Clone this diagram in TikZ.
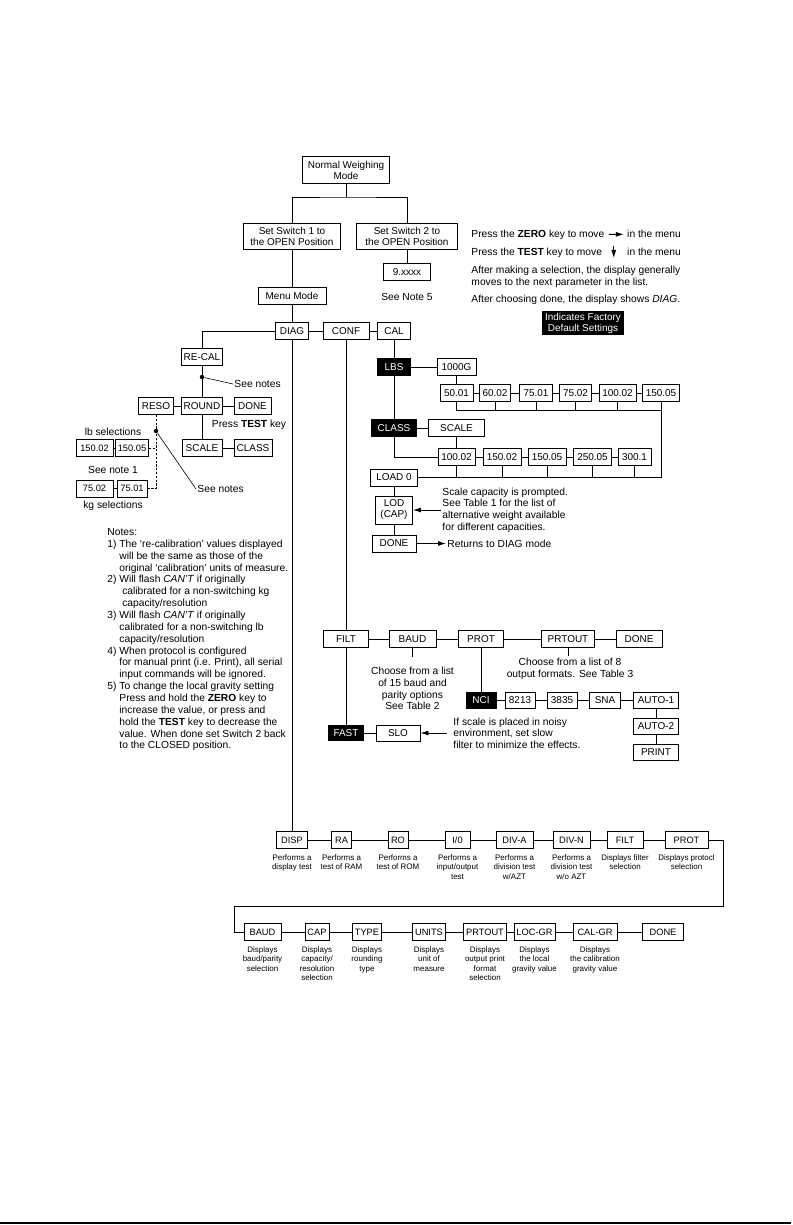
\documentclass[tikz,border=0pt]{standalone}
\usepackage{fontspec}
\setmainfont{Liberation Sans}
\usetikzlibrary{positioning,arrows.meta}

\tikzset{
  menubox/.style={draw, minimum height=17.5bp, inner xsep=2.5bp, inner ysep=0.5bp, align=center, font=\fontsize{10}{11}\selectfont},
  defbox/.style={menubox, fill=black, text=white},
  smallbox/.style={menubox, minimum height=17bp, font=\fontsize{9.3}{10}\selectfont},
  infotext/.style={font=\fontsize{10.3}{11.7}\selectfont, inner sep=1bp},
  capt/.style={font=\fontsize{8}{9.5}\selectfont, align=center, inner sep=0bp},
  pointer/.style={-{Latex[length=8bp,width=5bp]}},
  blob/.style={circle, fill=black, inner sep=0pt, minimum size=4.5bp},
}

\begin{document}
\begin{tikzpicture}[x=1bp, y=-1bp, line width=0.9bp]

  \useasboundingbox (0,0) rectangle (793,1225);

  \node[menubox, minimum width=87bp, minimum height=27bp] (normal) at (346,170) {Normal Weighing\\Mode};
  \node[menubox, minimum width=97bp, minimum height=26bp] (switch1) at (292,236) {Set Switch 1 to\\the OPEN Position};
  \node[menubox, minimum width=101bp, minimum height=26bp] (switch2) at (407,236) {Set Switch 2 to\\the OPEN Position};
  \node[menubox, minimum width=47bp] (gravity) at (407,272) {9.xxxx};
  \node[infotext] (note5) at (407,297) {See Note 5};
  \node[menubox, minimum width=68bp] (menu) at (292,296) {Menu Mode};
  \node[menubox, minimum width=33bp] (diag) at (292,331) {DIAG};
  \node[menubox, minimum width=46bp] (conf) at (346,331) {CONF};
  \node[menubox, minimum width=33bp] (cal) at (394,331) {CAL};

  \coordinate (split) at (346,197);
  \draw (normal) -- (split);
  \draw (switch1.north) |- (split) -| (switch2.north);
  \draw (switch2) -- (gravity);
  \draw (switch1) -- (menu) -- (diag);
  \draw (diag) -- (conf) -- (cal);

  \node[infotext, anchor=west] (zero1) at (470,235) {Press the \textbf{ZERO} key to move};
  \node[infotext, base right=20bp of zero1] (zero2) {in the menu};
  \draw[pointer, shorten <=3bp, shorten >=2bp] (zero1) -- (zero2);
  \node[infotext, anchor=west] (test1) at (470,253) {Press the \textbf{TEST} key to move};
  \node[infotext, anchor=base west] (test2) at (zero2.base west |- test1.base) {in the menu};
  \coordinate (downtop) at ([xshift=-12bp, yshift=6bp]test2.west);
  \coordinate (downend) at ([xshift=-12bp, yshift=-6bp]test2.west);
  \draw[pointer] (downtop) -- (downend);
  \node[infotext, anchor=west, align=left] (aftersel) at (470,277) {After making a selection, the display generally\\moves to the next parameter in the list.};
  \node[infotext, anchor=west] (afterdone) at (470,300) {After choosing done, the display shows \textit{DIAG}.};
  \node[defbox, minimum width=67bp, minimum height=23bp, font=\fontsize{10}{11}\selectfont] (legend) at (583,323) {Indicates Factory\\Default Settings};

  \node[defbox, minimum width=33bp] (lbs) at (394,367) {LBS};
  \node[menubox, minimum width=39bp] (g1000) at (456.5,367) {1000G};
  \node[menubox, minimum width=33bp] (l5001) at (456.5,393) {50.01};
  \node[menubox, minimum width=31bp] (l6002) at (495,393) {60.02};
  \node[menubox, minimum width=33bp] (l7501) at (536,393) {75.01};
  \node[menubox, minimum width=32bp] (l7502) at (575.5,393) {75.02};
  \node[menubox, minimum width=37bp] (l10002) at (617.5,393) {100.02};
  \node[menubox, minimum width=37bp] (l15005) at (661,393) {150.05};
  \node[defbox, minimum width=45bp] (class) at (394,428) {CLASS};
  \node[menubox, minimum width=56bp] (scale) at (456.5,428) {SCALE};
  \node[menubox, minimum width=37bp] (c10002) at (456.5,457) {100.02};
  \node[menubox, minimum width=38bp] (c15002) at (502,457) {150.02};
  \node[menubox, minimum width=38bp] (c15005) at (547,457) {150.05};
  \node[menubox, minimum width=38bp] (c25005) at (592.5,457) {250.05};
  \node[menubox, minimum width=33bp] (c3001) at (634.5,457) {300.1};
  \node[menubox, minimum width=47bp, minimum height=17bp] (load) at (394,477.5) {LOAD 0};
  \node[menubox, minimum width=37bp, minimum height=28bp] (lod) at (394,510) {LOD\\(CAP)};
  \node[menubox, minimum width=44bp, minimum height=17bp] (caldone) at (394,543.5) {DONE};
  \node[infotext, anchor=west, align=left] (captext) at (441,510) {Scale capacity is prompted.\\See Table 1 for the list of\\alternative weight available\\for different capacities.};
  \node[infotext, anchor=west] (backtext) at (446,543.5) {Returns to DIAG mode};

  \coordinate (busone) at (661,410);
  \coordinate (bustwo) at (661,477.5);
  \draw (cal) -- (lbs) -- (class);
  \draw (lbs) -- (g1000) -- (l5001);
  \draw (l5001) -- (l6002) -- (l7501) -- (l7502) -- (l10002) -- (l15005);
  \draw (l5001.south) |- (busone) -- (bustwo);
  \foreach \n in {l6002,l7501,l7502,l10002}
    \draw (\n.south) -- (\n.south |- busone);
  \draw (l15005) -- (busone);
  \draw (class) -- (scale) -- (c10002);
  \draw (class.south) |- (c10002.west);
  \draw (c10002) -- (c15002) -- (c15005) -- (c25005) -- (c3001);
  \foreach \n in {c10002,c15002,c15005,c25005,c3001}
    \draw (\n.south) -- (\n.south |- bustwo);
  \draw (load) -- (bustwo);
  \draw (load) -- (lod) -- (caldone);
  \draw[pointer] (captext.west) -- (lod.east);
  \draw[pointer] (caldone) -- (backtext);

  \node[menubox, minimum width=41bp] (recal) at (202,357) {RE-CAL};
  \node[blob] (dotone) at (202,377) {};
  \node[infotext, anchor=west] (seenotes1) at (233,384) {See notes};
  \node[menubox, minimum width=35bp, minimum height=17bp] (reso) at (156,406) {RESO};
  \node[menubox, minimum width=41bp, minimum height=17bp] (round) at (202,406) {ROUND};
  \node[menubox, minimum width=37bp, minimum height=17bp] (rounddone) at (252.5,406) {DONE};
  \node[infotext] (presstest) at (249,425) {Press \textbf{TEST} key};
  \node[menubox, minimum width=40bp, minimum height=17bp] (scaleleft) at (202,448) {SCALE};
  \node[menubox, minimum width=38bp, minimum height=17bp] (classleft) at (253,448) {CLASS};
  \node[infotext] (lbsel) at (113,432) {lb selections};
  \node[smallbox, minimum width=37bp] (lb1) at (94.5,448) {150.02};
  \node[smallbox, minimum width=32bp] (lb2) at (132,448) {150.05};
  \node[infotext] (note1) at (113,470) {See note 1};
  \node[smallbox, minimum width=37bp] (kg1) at (94.5,488.5) {75.02};
  \node[smallbox, minimum width=30bp] (kg2) at (132,488.5) {75.01};
  \node[infotext] (kgsel) at (113,506) {kg selections};
  \node[blob] (dottwo) at (156,431) {};
  \node[infotext, anchor=west] (seenotes2) at (196,489) {See notes};

  \draw (diag.west) -| (recal.north);
  \draw (recal) -- (round);
  \draw[line width=0.6bp] (dotone) -- (seenotes1.west);
  \draw (reso) -- (round) -- (rounddone);
  \draw (round) -- (scaleleft) -- (classleft);
  \draw (lb1) -- (lb2);
  \draw (kg1) -- (kg2);
  \draw[dash pattern=on 2.2bp off 1.6bp] (reso.south) |- (kg2.east);
  \draw[dash pattern=on 2.2bp off 1.6bp] (lb2.east) -- (lb2.east -| reso.south);
  \draw[line width=0.6bp] (dottwo) -- (seenotes2.west);

  \node[infotext, anchor=north west, align=left, font=\fontsize{10.3}{11.9}\selectfont] (notes) at (106,527) {Notes:\\
    1) The `re-calibration' values displayed\\
    \hphantom{1) }will be the same as those of the\\
    \hphantom{1) }original `calibration' units of measure.\\
    2) Will flash \textit{CAN'T} if originally\\
    \hphantom{2)\ \ }calibrated for a non-switching kg\\
    \hphantom{2)\ \ }capacity/resolution\\
    3) Will flash \textit{CAN'T} if originally\\
    \hphantom{3) }calibrated for a non-switching lb\\
    \hphantom{3) }capacity/resolution\\
    4) When protocol is configured\\
    \hphantom{4) }for manual print (i.e. Print), all serial\\
    \hphantom{4) }input commands will be ignored.\\
    5) To change the local gravity setting\\
    \hphantom{5) }Press and hold the \textbf{ZERO} key to\\
    \hphantom{5) }increase the value, or press and\\
    \hphantom{5) }hold the \textbf{TEST} key to decrease the\\
    \hphantom{5) }value. When done set Switch 2 back\\
    \hphantom{5) }to the CLOSED position.};

  \node[menubox, minimum width=45bp] (filt) at (346,639) {FILT};
  \node[menubox, minimum width=47bp] (baud) at (412.5,639) {BAUD};
  \node[menubox, minimum width=45bp] (prot) at (481,639) {PROT};
  \node[menubox, minimum width=53bp] (prtout) at (568,639) {PRTOUT};
  \node[menubox, minimum width=46bp] (confdone) at (639,639) {DONE};
  \coordinate (baudstub) at (412.5,657);
  \coordinate (prtstub) at (568,656);
  \node[infotext, anchor=north, align=center] (baudtext) at (412.5,666) {Choose from a list\\of 15 baud and\\parity options\\See Table 2};
  \node[infotext, anchor=north, align=center] (prttext) at (570,657) {Choose from a list of 8\\output formats. See Table 3};
  \node[defbox, minimum width=30bp, minimum height=16bp] (nci) at (481,700) {NCI};
  \node[menubox, minimum width=30bp, minimum height=16bp] (n8213) at (520,700) {8213};
  \node[menubox, minimum width=30bp, minimum height=16bp] (n3835) at (562,700) {3835};
  \node[menubox, minimum width=31bp, minimum height=16bp] (sna) at (605,700) {SNA};
  \node[menubox, minimum width=45bp, minimum height=16bp] (auto1) at (656,700) {AUTO-1};
  \node[menubox, minimum width=45bp, minimum height=16bp] (auto2) at (656,726) {AUTO-2};
  \node[menubox, minimum width=45bp, minimum height=16bp] (print) at (656,752) {PRINT};
  \node[defbox, minimum width=35bp, minimum height=15bp] (fast) at (346,733) {FAST};
  \node[menubox, minimum width=44bp, minimum height=16bp] (slo) at (398,733) {SLO};
  \node[infotext, anchor=west, align=left] (noisetext) at (452,733) {If scale is placed in noisy\\environment, set slow\\filter to minimize the effects.};

  \draw (conf) -- (filt);
  \draw (filt) -- (baud) -- (prot) -- (prtout) -- (confdone);
  \draw (baud) -- (baudstub);
  \draw (prtout) -- (prtstub);
  \draw (prot) -- (nci);
  \draw (nci) -- (n8213) -- (n3835) -- (sna) -- (auto1);
  \draw (auto1) -- (auto2) -- (print);
  \draw (filt) -- (fast) -- (slo);
  \draw[pointer, shorten <=5bp] (noisetext.west) -- (slo.east);

  \node[smallbox, minimum width=31bp] (disp) at (292,840) {DISP};
  \node[smallbox, minimum width=20bp] (ra) at (341.5,840) {RA};
  \node[smallbox, minimum width=20bp] (ro) at (398,840) {RO};
  \node[smallbox, minimum width=25bp] (io) at (457.5,840) {I/0};
  \node[smallbox, minimum width=37bp] (diva) at (514.5,840) {DIV-A};
  \node[smallbox, minimum width=37bp] (divn) at (571.5,840) {DIV-N};
  \node[smallbox, minimum width=36bp] (filttest) at (625,840) {FILT};
  \node[smallbox, minimum width=43bp] (prottest) at (686.5,840) {PROT};
  \node[capt, below=5bp of disp] (dispnote) {Performs a\\display test};
  \node[capt, below=5bp of ra] (ranote) {Performs a\\test of RAM};
  \node[capt, below=5bp of ro] (ronote) {Performs a\\test of ROM};
  \node[capt, below=5bp of io] (ionote) {Performs a\\input/output\\test};
  \node[capt, below=5bp of diva] (divanote) {Performs a\\division test\\w/AZT};
  \node[capt, below=5bp of divn] (divnnote) {Performs a\\division test\\w/o AZT};
  \node[capt, below=5bp of filttest] (filtnote) {Displays filter\\selection};
  \node[capt, below=5bp of prottest] (protnote) {Displays protocl\\selection};

  \draw (diag) -- (disp);
  \draw (disp) -- (ra) -- (ro) -- (io) -- (diva) -- (divn) -- (filttest) -- (prottest);

  \node[smallbox, minimum width=37bp] (bauddisp) at (262.5,932) {BAUD};
  \node[smallbox, minimum width=24bp] (capdisp) at (317,932) {CAP};
  \node[smallbox, minimum width=26bp] (typedisp) at (367,932) {TYPE};
  \node[smallbox, minimum width=27bp] (unitsdisp) at (429,932) {UNITS};
  \node[smallbox, minimum width=37bp] (prtdisp) at (485,932) {PRTOUT};
  \node[smallbox, minimum width=36bp] (locgr) at (534.5,932) {LOC-GR};
  \node[smallbox, minimum width=44bp] (calgr) at (595,932) {CAL-GR};
  \node[smallbox, minimum width=41bp] (donedisp) at (663,932) {DONE};
  \node[capt, below=5bp of bauddisp] (baudnote) {Displays\\baud/parity\\selection};
  \node[capt, below=5bp of capdisp] (capnote) {Displays\\capacity/\\resolution\\selection};
  \node[capt, below=5bp of typedisp] (typenote) {Displays\\rounding\\type};
  \node[capt, below=5bp of unitsdisp] (unitsnote) {Displays\\unit of\\measure};
  \node[capt, below=5bp of prtdisp] (prtnote) {Displays\\output print\\format\\selection};
  \node[capt, below=5bp of locgr] (locnote) {Displays\\the local\\gravity value};
  \node[capt, below=5bp of calgr] (calnote) {Displays\\the calibration\\gravity value};

  \coordinate (turnright) at (723,906);
  \coordinate (turnleft) at (234,906);
  \draw (prottest.east) -| (turnright) -- (turnleft) |- (bauddisp.west);
  \draw (bauddisp) -- (capdisp) -- (typedisp) -- (unitsdisp) -- (prtdisp) -- (locgr) -- (calgr) -- (donedisp);

  \draw[line width=1.3bp] (0,1223) -- (791,1223);

\end{tikzpicture}
\end{document}
